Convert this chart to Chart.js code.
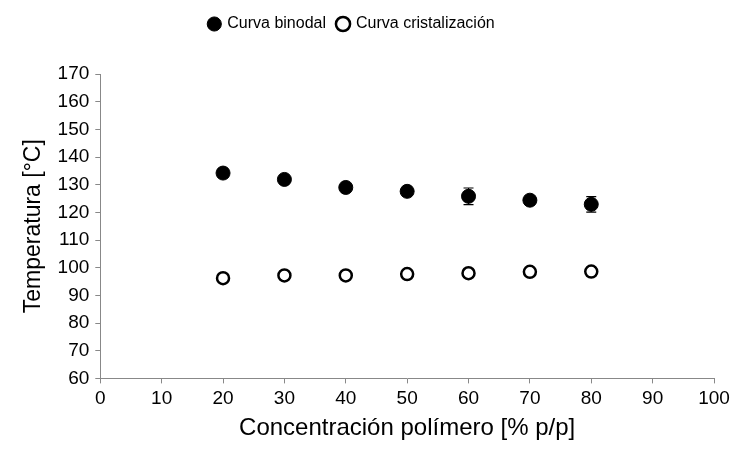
<!DOCTYPE html>
<html>
<head>
<meta charset="utf-8">
<script src="https://cdn.jsdelivr.net/npm/chart.js@4"></script>
<style>
  html, body { margin: 0; padding: 0; background: #fff; }
  #wrap { width: 742px; height: 455px; }
</style>
</head>
<body>
<div id="wrap"><canvas id="chart"></canvas></div>
<script>
// Data
const concentrations = [20, 30, 40, 50, 60, 70, 80];
const binodal = [134.2, 131.9, 129.0, 127.6, 125.8, 124.4, 122.9];
const binodalErr = [0.6, 0.8, 0.8, 1.5, 3.0, 1.2, 2.8];
const cristalizacion = [96.2, 97.2, 97.2, 97.7, 98.0, 98.5, 98.6];

const toPoints = (ys) => concentrations.map((x, i) => ({ x, y: ys[i] }));

// draws vertical error bars with caps under the markers
const errorBars = {
  id: 'errorBars',
  beforeDatasetsDraw(chart) {
    const { ctx, scales: { x, y } } = chart;
    ctx.save();
    ctx.strokeStyle = '#000';
    ctx.lineWidth = 1.2;
    concentrations.forEach((c, i) => {
      const px = x.getPixelForValue(c);
      const top = y.getPixelForValue(binodal[i] + binodalErr[i]);
      const bot = y.getPixelForValue(binodal[i] - binodalErr[i]);
      ctx.beginPath();
      ctx.moveTo(px, top); ctx.lineTo(px, bot);
      ctx.moveTo(px - 5, top); ctx.lineTo(px + 5, top);
      ctx.moveTo(px - 5, bot); ctx.lineTo(px + 5, bot);
      ctx.stroke();
    });
    ctx.restore();
  }
};

// extra room under the legend, and nudge it a bit to the left
const legendGap = {
  id: 'legendGap',
  beforeInit(chart) {
    const fit = chart.legend.fit;
    chart.legend.fit = function () {
      fit.bind(chart.legend)();
      this.height += 32;
    };
  },
  afterLayout(chart) {
    chart.legend.left -= 13;
    chart.legend.right -= 13;
  }
};

Chart.defaults.font.family = '"Liberation Sans", Arial, sans-serif';
Chart.defaults.color = '#000';

new Chart(document.getElementById('chart'), {
  type: 'scatter',
  data: {
    datasets: [
      {
        label: 'Curva binodal',
        data: toPoints(binodal),
        pointStyle: 'circle',
        pointRadius: 7,
        backgroundColor: '#000',
        borderColor: '#000',
        borderWidth: 1
      },
      {
        label: 'Curva cristalización',
        data: toPoints(cristalizacion),
        pointStyle: 'circle',
        pointRadius: 6,
        backgroundColor: '#fff',
        borderColor: '#000',
        borderWidth: 2.5
      }
    ]
  },
  options: {
    responsive: true,
    maintainAspectRatio: false,
    animation: false,
    layout: { padding: { top: 4, right: 28, bottom: 8, left: 16 } },
    plugins: {
      legend: {
        position: 'top',
        labels: {
          usePointStyle: true,
          boxWidth: 10,
          boxHeight: 10,
          padding: 12,
          font: { size: 16 }
        }
      },
      tooltip: { enabled: false }
    },
    scales: {
      x: {
        type: 'linear',
        min: 0,
        max: 100,
        ticks: { stepSize: 10, font: { size: 19 }, padding: 4 },
        grid: { drawOnChartArea: false, drawTicks: true, tickLength: 5, color: '#888' },
        border: { color: '#888' },
        title: { display: true, text: 'Concentración polímero [% p/p]', font: { size: 24 }, padding: { top: 0 } }
      },
      y: {
        type: 'linear',
        min: 60,
        max: 170,
        ticks: { stepSize: 10, font: { size: 19 }, padding: 6 },
        grid: { drawOnChartArea: false, drawTicks: true, tickLength: 5, color: '#888' },
        border: { color: '#888' },
        title: { display: true, text: 'Temperatura [°C]', font: { size: 23 }, padding: { bottom: 4 } }
      }
    }
  },
  plugins: [errorBars, legendGap]
});
</script>
</body>
</html>
